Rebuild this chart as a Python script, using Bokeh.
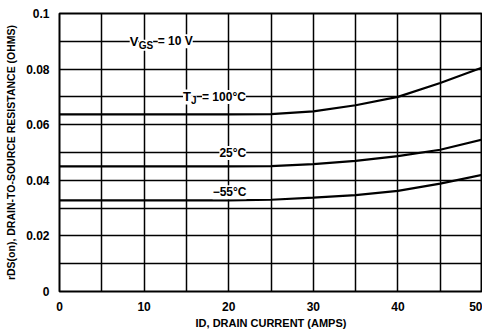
from bokeh.plotting import figure
from bokeh.models import Label, FixedTicker, Range1d
from bokeh.embed import file_html
from bokeh.resources import INLINE

# data
id_amps = [0, 5, 10, 15, 20, 25, 30, 35, 40, 45, 50]
r_100 = [0.0637, 0.0637, 0.0637, 0.0637, 0.0637, 0.0638, 0.0648, 0.0670, 0.0700, 0.0750, 0.0806]
r_25 = [0.0450, 0.0450, 0.0450, 0.0450, 0.0450, 0.0451, 0.0458, 0.0470, 0.0487, 0.0510, 0.0547]
r_m55 = [0.0328, 0.0328, 0.0328, 0.0328, 0.0328, 0.0330, 0.0338, 0.0347, 0.0362, 0.0388, 0.0420]

x_ticks = [0, 10, 20, 30, 40, 50]
y_ticks = [0, 0.02, 0.04, 0.06, 0.08, 0.1]
y_tick_labels = ["0", "0.02", "0.04", "0.06", "0.08", "0.1"]
x_grid = [5, 10, 15, 20, 25, 30, 35, 40, 45]
y_grid = [0.01, 0.02, 0.03, 0.04, 0.05, 0.06, 0.07, 0.08, 0.09]

# label pieces: (text, x, y, x pixel offset, y pixel offset, font size)
label_parts = [
    ("V", 8.3, 0.09, 0, 0, "13px"),
    ("GS", 8.3, 0.09, 9, -4, "10px"),
    ("= 10 V", 8.3, 0.09, 28, 0, "12px"),
    ("T", 14.6, 0.07, 0, 0, "13px"),
    ("J", 14.6, 0.07, 8, -4, "10px"),
    ("= 100°C", 14.6, 0.07, 19, 0, "12px"),
    ("25°C", 18.9, 0.0498, 0, 0, "12px"),
    ("−55°C", 18.1, 0.0357, 0, 0, "12px"),
]

FONT = "Liberation Sans"

p = figure(frame_width=423, frame_height=278, output_backend="svg", toolbar_location=None,
           x_range=Range1d(0, 50), y_range=Range1d(0, 0.1),
           min_border_left=59, min_border_right=0, min_border_top=13, min_border_bottom=30)

p.outline_line_color = "black"
p.outline_line_width = 2
p.background_fill_color = "white"
p.border_fill_color = "white"

for ax, ticks in ((p.xaxis, x_ticks), (p.yaxis, y_ticks)):
    ax.ticker = FixedTicker(ticks=ticks)
    ax.major_tick_line_color = None
    ax.minor_tick_line_color = None
    ax.axis_line_color = None
    ax.major_label_text_font = FONT
    ax.major_label_text_font_style = "bold"
    ax.major_label_text_font_size = "12px"
    ax.major_label_text_color = "black"
    ax.axis_label_text_font = FONT
    ax.axis_label_text_font_style = "bold"
    ax.axis_label_text_color = "black"
    ax.major_label_standoff = 4

p.yaxis.major_label_overrides = {t: l for t, l in zip(y_ticks, y_tick_labels)}
p.xaxis.axis_label = "ID, DRAIN CURRENT (AMPS)"
p.yaxis.axis_label = "rDS(on), DRAIN-TO-SOURCE RESISTANCE (OHMS)"
p.xaxis.axis_label_text_font_size = "11px"
p.yaxis.axis_label_text_font_size = "10.5px"
p.xaxis.axis_label_standoff = 3
p.yaxis.axis_label_standoff = 6

p.xgrid.ticker = FixedTicker(ticks=x_grid)
p.ygrid.ticker = FixedTicker(ticks=y_grid)
for g in (p.xgrid, p.ygrid):
    g.grid_line_color = "black"
    g.grid_line_width = 1.5
    g.grid_line_alpha = 1

for r in (r_100, r_25, r_m55):
    p.line(id_amps, r, line_color="black", line_width=2.2)

for txt, x, y, xo, yo, fs in label_parts:
    lab = Label(x=x, y=y, text=txt, text_font=FONT, text_font_style="bold",
                text_font_size=fs, text_color="black", text_align="left",
                text_baseline="middle", background_fill_color="white",
                x_offset=xo, y_offset=yo)
    p.add_layout(lab)

open("out.html", "w").write(file_html(p, INLINE))
